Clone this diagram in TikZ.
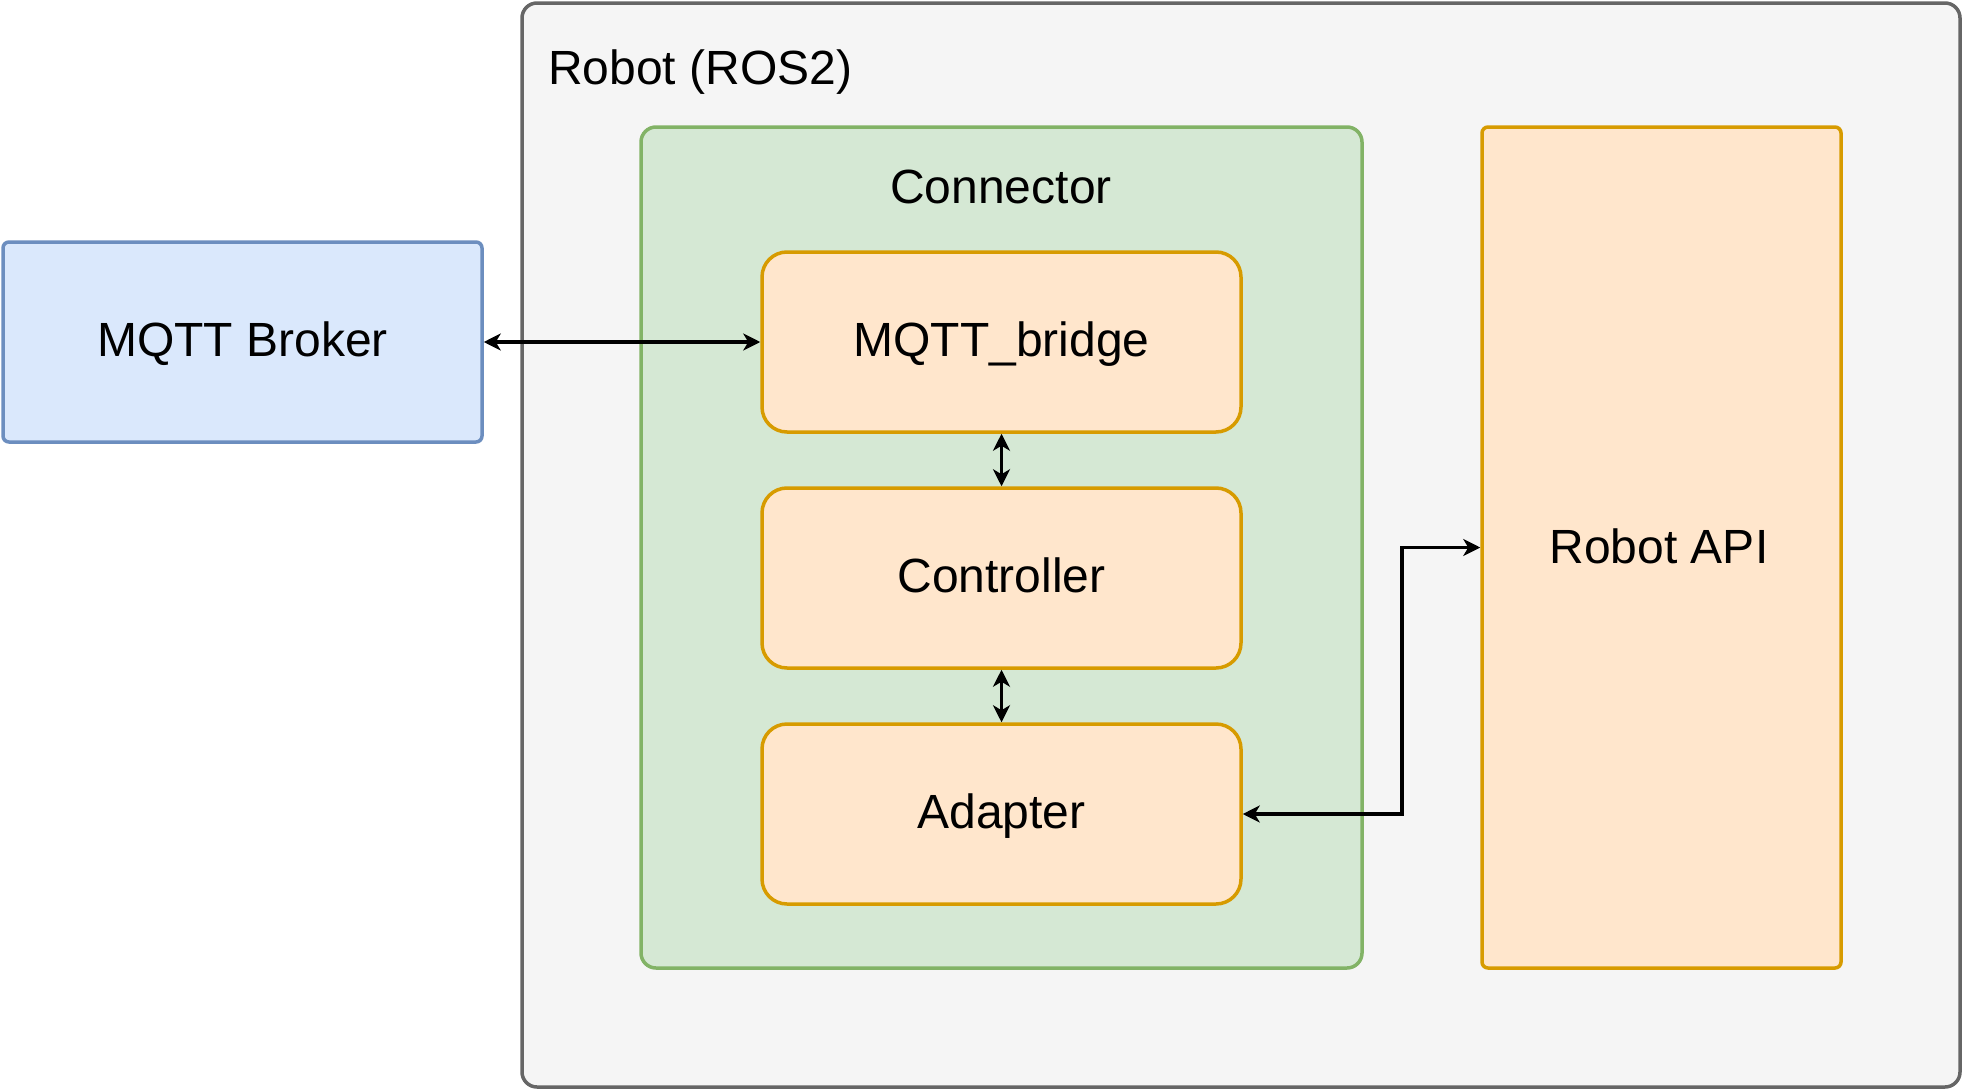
\documentclass[tikz,border=0pt]{standalone}
\usepackage{fontspec}
\setmainfont{Liberation Sans}
\usetikzlibrary{arrows.meta}
\definecolor{greyfill}{HTML}{F5F5F5}
\definecolor{greyline}{HTML}{666666}
\definecolor{greenfill}{HTML}{D5E8D4}
\definecolor{greenline}{HTML}{82B366}
\definecolor{orangefill}{HTML}{FFE6CC}
\definecolor{orangeline}{HTML}{D79B00}
\definecolor{bluefill}{HTML}{DAE8FC}
\definecolor{blueline}{HTML}{6C8EBF}
\tikzset{
  box/.style={draw, line width=3.5pt, inner sep=0pt, anchor=center, text height=38pt, text depth=10pt, font=\fontsize{48}{57}\selectfont},
  lbl/.style={inner sep=0pt, text height=43pt, text depth=10pt, font=\fontsize{48}{57}\selectfont},
  link/.style={line width=3.5pt, {Stealth[length=17pt,width=17pt,inset=5pt]}-{Stealth[length=17pt,width=17pt,inset=5pt]}},
}
\begin{document}
\begin{tikzpicture}[x=1pt,y=-1pt]
\useasboundingbox (0,0) rectangle (1968,1092);
% outer robot box
\node[box, fill=greyfill, draw=greyline, rounded corners=15pt, minimum width=1438pt, minimum height=1084pt] (robot) at (1241,545) {};
\node[lbl, anchor=west] (robotlbl) at (548,68) {Robot (ROS2)};
% connector
\node[box, fill=greenfill, draw=greenline, rounded corners=15pt, minimum width=721pt, minimum height=841pt] (conn) at (1001.5,547.5) {};
\node[lbl] (connlbl) at (1001,187) {Connector};
% inner boxes
\node[box, fill=orangefill, draw=orangeline, rounded corners=25pt, minimum width=479pt, minimum height=180pt] (bridge) at (1001.5,342) {MQTT\_bridge};
\node[box, fill=orangefill, draw=orangeline, rounded corners=25pt, minimum width=479pt, minimum height=180pt] (ctrl) at (1001.5,578) {Controller};
\node[box, fill=orangefill, draw=orangeline, rounded corners=25pt, minimum width=479pt, minimum height=180pt] (adapter) at (1001.5,814) {Adapter};
% robot api
\node[box, fill=orangefill, draw=orangeline, rounded corners=6pt, minimum width=359pt, minimum height=841pt] (api) at (1661.5,547.5) {};
\node[lbl] (apilbl) at (1659,547) {Robot API};
% broker
\node[box, fill=bluefill, draw=blueline, rounded corners=6pt, minimum width=479pt, minimum height=200pt] (broker) at (242.5,342) {MQTT Broker};
% connectors
\coordinate (bendx) at (1402,0);
\draw[link] (broker.east) -- (bridge.west);
\draw[link] (bridge.south) -- (ctrl.north);
\draw[link] (ctrl.south) -- (adapter.north);
\draw[link] (adapter.east) -- (adapter.east -| bendx) |- (api.west);
\end{tikzpicture}
\end{document}
